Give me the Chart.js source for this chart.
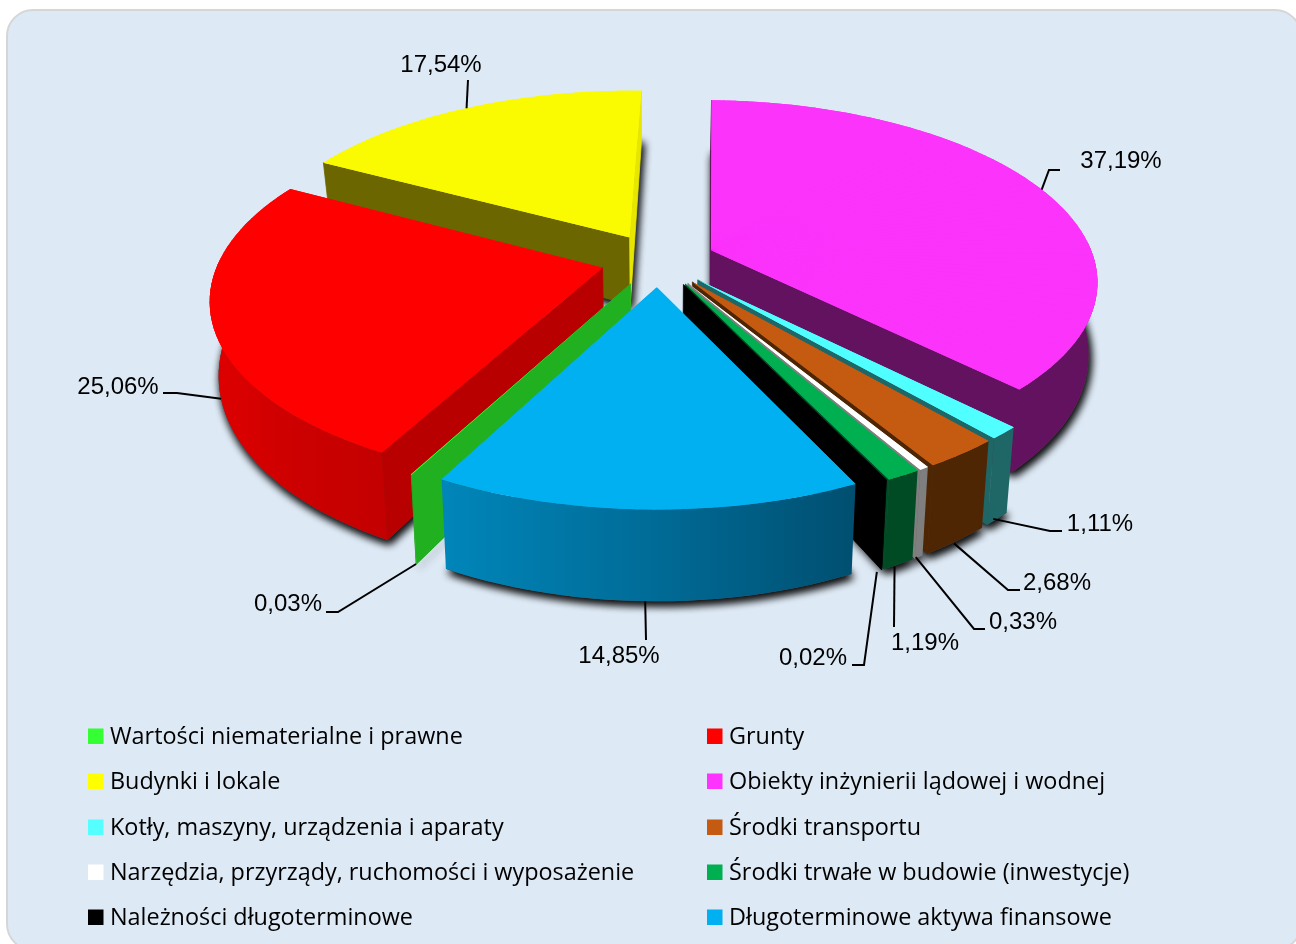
<!DOCTYPE html>
<html>
<head>
<meta charset="utf-8">
<style>
    html, body { margin: 0; padding: 0; background: #fff; overflow: hidden; }
    #wrap { position: relative; width: 1296px; height: 944px; overflow: hidden; }
    #panel { position: absolute; left: 6px; top: 9px; width: 1296px; height: 942px; box-sizing: border-box;
             background: #DDE9F5; border: 2px solid #D6D6D6; border-radius: 27px; }
    canvas { position: absolute; left: 0; top: 0; }
</style>
</head>
<body>
<div id="wrap">
    <div id="panel"></div>
    <canvas id="myChart" width="1296" height="944"></canvas>
</div>
<script src="https://cdn.jsdelivr.net/npm/chart.js@4"></script>
<script>
const categories = [
    'Wartości niematerialne i prawne', 'Grunty', 'Budynki i lokale', 'Obiekty inżynierii lądowej i wodnej',
    'Kotły, maszyny, urządzenia i aparaty', 'Środki transportu', 'Narzędzia, przyrządy, ruchomości i wyposażenie',
    'Środki trwałe w budowie (inwestycje)', 'Należności długoterminowe', 'Długoterminowe aktywa finansowe'
];
const values = [0.03, 25.06, 17.54, 37.19, 1.11, 2.68, 0.33, 1.19, 0.02, 14.85];

const colors = ['#33FF33', '#FF0000', '#FAFA00', '#FB33FB', '#50FFFF', '#C55A11', '#FFFFFF', '#00B050', '#000000', '#00B0F0'];
const legendColors = ['#33FF33', '#FF0000', '#FFFF00', '#FF33FF', '#55FFFF', '#C55A11', '#FFFFFF', '#00B050', '#000000', '#00B0F0'];
const wallColors = [
    ['#1E9A1E'], ['#E00000', '#CC0000', '#C40000'], ['#6B6600'], ['#63125F'], ['#1F6666'], ['#4F2604'],
    ['#7F7F7F'], ['#004A24'], ['#000000'], ['#0086BA', '#006C98', '#004F70']
];
const startFaceColors = ['#20B020', '#B80000', '#6B6600', '#63125F', '#1F6666', '#4F2604', '#7F7F7F', '#004A24', '#000000', '#006C98'];
const endFaceColors = ['#20B020', '#B80000', '#E6E600', '#63125F', '#1F6666', '#4F2604', '#7F7F7F', '#004A24', '#000000', '#006C98'];

// where the value labels sit, and the bend of their leader lines
const labelPos = [[288, 604], [118, 387], [441, 65], [1121, 161], [1100, 524], [1057, 583], [1023, 622], [925, 643], [813, 658], [619, 656]];
const elbowPos = [[[338, 612], [326, 612]], [[177, 393], [163, 393]], [[468, 80]], [[1049, 170], [1060, 170]], [[1050, 531], [1062, 531]],
    [[1008, 590], [1020, 590]], [[974, 629], [985, 629]], [[894, 627]], [[864, 665], [852, 665]], [[646, 640]]];
const anchorShift = [[0, 0], [0, 0], [0, 0], [0, 0], [-4, 0], [-2, 2], [-3, 0], [-4, 2], [-5, 2], [-2, 0]];

// perspective of the plate, fitted by eye
const CX = 658, CY = 260, AX = 383.5, BY = 177, PERSP = 0.16, EXPLODE = 0.15;
const DEPTH0 = 70, DEPTH1 = 19, SHRINK = 0.98;
const SUB = Math.PI / 90;

function project(u, v, bottom) {
    const w = 1 - PERSP * v;
    let x = AX * u / w;
    let y = BY * v / w;
    if (bottom) {
        x *= SHRINK;
        y += DEPTH0 + DEPTH1 * v;
    }
    return {x: CX + x, y: CY + y};
}

function rimPoint(arc, angle, r, bottom) {
    const mid = (arc.startAngle + arc.endAngle) / 2;
    return project(Math.cos(mid) * EXPLODE + r * Math.cos(angle), Math.sin(mid) * EXPLODE + r * Math.sin(angle), bottom);
}

function rimAngles(arc) {
    const n = Math.max(1, Math.ceil((arc.endAngle - arc.startAngle) / SUB));
    const list = [];
    for (let i = 0; i <= n; i++) {
        list.push(arc.startAngle + (arc.endAngle - arc.startAngle) * i / n);
    }
    return list;
}

function rimPoints(arc, bottom) {
    return rimAngles(arc).map(a => rimPoint(arc, a, 1, bottom));
}

function fillPoly(ctx, pts, color, seal) {
    ctx.fillStyle = color;
    ctx.beginPath();
    pts.forEach((p, i) => i ? ctx.lineTo(p.x, p.y) : ctx.moveTo(p.x, p.y));
    ctx.closePath();
    ctx.fill();
    // thin stroke in the same colour closes the hairline between neighbouring faces
    if (seal) {
        ctx.strokeStyle = color;
        ctx.lineWidth = 0.8;
        ctx.stroke();
    }
}

function signedArea(pts) {
    let sum = 0;
    pts.forEach((p, i) => {
        const q = pts[(i + 1) % pts.length];
        sum += p.x * q.y - q.x * p.y;
    });
    return sum;
}

// only the part of the rim turned towards the viewer gets a wall, the back would bleed through the top edge
function drawWall(ctx, arc, stops) {
    const angles = rimAngles(arc).filter(a => Math.sin(a) > -0.05);
    if (angles.length < 2) return;
    const top = angles.map(a => rimPoint(arc, a, 1, false));
    const low = angles.map(a => rimPoint(arc, a, 1, true));
    const pts = top.concat(low.reverse());
    const xs = pts.map(p => p.x);
    let fill = stops[0];
    if (stops.length > 1) {
        fill = ctx.createLinearGradient(Math.min(...xs), 0, Math.max(...xs), 0);
        stops.forEach((c, i) => fill.addColorStop(i / (stops.length - 1), c));
    }
    fillPoly(ctx, pts, fill);
}

// the library draws the top of each slice, in thin wedges, each one mapped by its own affine
function drawTop(ctx, arc) {
    const a0 = arc.startAngle, a1 = arc.endAngle, circ = arc.circumference;
    const mid = (a0 + a1) / 2;
    const R = arc.outerRadius, X = arc.x, Y = arc.y;
    const n = Math.max(1, Math.ceil((a1 - a0) / SUB));
    const S0 = project(Math.cos(mid) * EXPLODE, Math.sin(mid) * EXPLODE, false);
    // same colour underneath so the joins between wedges do not show
    fillPoly(ctx, [S0].concat(rimPoints(arc, false)), arc.options.backgroundColor);
    for (let i = 0; i < n; i++) {
        const s = a0 + (a1 - a0) * i / n;
        const e = i === n - 1 ? a1 : a0 + (a1 - a0) * (i + 1) / n + 0.006;
        const c = (s + e) / 2, aa = c - SUB / 2, ab = c + SUB / 2;
        const S1 = project(Math.cos(mid) * EXPLODE + Math.cos(aa), Math.sin(mid) * EXPLODE + Math.sin(aa), false);
        const S2 = project(Math.cos(mid) * EXPLODE + Math.cos(ab), Math.sin(mid) * EXPLODE + Math.sin(ab), false);
        const e1x = R * Math.cos(aa), e1y = R * Math.sin(aa), e2x = R * Math.cos(ab), e2y = R * Math.sin(ab);
        const det = e1x * e2y - e2x * e1y;
        const s1x = S1.x - S0.x, s1y = S1.y - S0.y, s2x = S2.x - S0.x, s2y = S2.y - S0.y;
        const m11 = (s1x * e2y - s2x * e1y) / det, m12 = (s2x * e1x - s1x * e2x) / det;
        const m21 = (s1y * e2y - s2y * e1y) / det, m22 = (s2y * e1x - s1y * e2x) / det;
        ctx.save();
        ctx.transform(m11, m21, m12, m22, S0.x - m11 * X - m12 * Y, S0.y - m21 * X - m22 * Y);
        arc.startAngle = s;
        arc.endAngle = e;
        arc.circumference = e - s;
        arc.draw(ctx);
        ctx.restore();
    }
    arc.startAngle = a0;
    arc.endAngle = a1;
    arc.circumference = circ;
}

const solidPie = {
    id: 'solidPie',
    beforeDatasetDraw(chart, args) {
        const ctx = chart.ctx;
        const arcs = chart.getDatasetMeta(args.index).data;
        const order = arcs.map((a, i) => i).sort((i, j) =>
            Math.sin((arcs[i].startAngle + arcs[i].endAngle) / 2) - Math.sin((arcs[j].startAngle + arcs[j].endAngle) / 2));

        // soft shadow falls on the panel only, twice over to get it as dark as the original
        ctx.save();
        ctx.shadowColor = 'rgba(0,0,0,0.8)';
        ctx.shadowBlur = 9;
        ctx.shadowOffsetX = 2;
        ctx.shadowOffsetY = 4;
        [0, 1].forEach(() => {
            order.forEach(i => {
                fillPoly(ctx, [rimPoint(arcs[i], 0, 0, true)].concat(rimPoints(arcs[i], true)), '#555');
            });
        });
        ctx.restore();

        order.forEach(i => {
            const arc = arcs[i];
            const at = rimPoint(arc, 0, 0, false), ab = rimPoint(arc, 0, 0, true);
            const startFace = [at, rimPoint(arc, arc.startAngle, 1, false), rimPoint(arc, arc.startAngle, 1, true), ab];
            const endFace = [at, rimPoint(arc, arc.endAngle, 1, false), rimPoint(arc, arc.endAngle, 1, true), ab];
            drawWall(ctx, arc, wallColors[i]);
            if (signedArea(startFace) < 0) fillPoly(ctx, startFace, startFaceColors[i], true);
            if (signedArea(endFace) > 0) fillPoly(ctx, endFace, endFaceColors[i], true);
            drawTop(ctx, arc);
        });
        return false;
    },
    afterDraw(chart) {
        const ctx = chart.ctx;
        const arcs = chart.getDatasetMeta(0).data;
        ctx.save();
        ctx.textBaseline = 'middle';

        // value labels and leader lines
        ctx.font = '24px "Liberation Sans"';
        ctx.textAlign = 'center';
        ctx.strokeStyle = '#000';
        ctx.lineWidth = 2;
        arcs.forEach((arc, i) => {
            const mid = (arc.startAngle + arc.endAngle) / 2;
            const from = rimPoint(arc, mid, 1, Math.sin(mid) > -0.1);
            ctx.beginPath();
            ctx.moveTo(from.x + anchorShift[i][0], from.y + anchorShift[i][1]);
            elbowPos[i].forEach(p => ctx.lineTo(p[0], p[1]));
            ctx.stroke();
            ctx.fillStyle = '#000';
            ctx.fillText(values[i].toFixed(2).replace('.', ',') + '%', labelPos[i][0], labelPos[i][1]);
        });

        // two column legend, read row by row
        const rows = [736, 781, 827, 872, 917], cols = [88, 707];
        ctx.textAlign = 'left';
        ctx.font = '23.4px "Open Sans"';
        categories.forEach((name, i) => {
            const x = cols[i % 2], y = rows[Math.floor(i / 2)];
            ctx.fillStyle = legendColors[i];
            ctx.fillRect(x, y - 7.5, 15.5, 15.5);
            ctx.fillStyle = '#000';
            ctx.fillText(name, x + 22, y + 1);
        });
        ctx.restore();
    }
};

new Chart(document.getElementById('myChart').getContext('2d'), {
    type: 'pie',
    data: {
        labels: categories,
        datasets: [{
            data: values,
            backgroundColor: colors,
            borderWidth: 0
        }]
    },
    options: {
        responsive: false,
        animation: false,
        events: [],
        rotation: 207.9,
        radius: 100,
        plugins: {
            legend: {display: false},
            tooltip: {enabled: false}
        }
    },
    plugins: [solidPie]
});
</script>
</body>
</html>
